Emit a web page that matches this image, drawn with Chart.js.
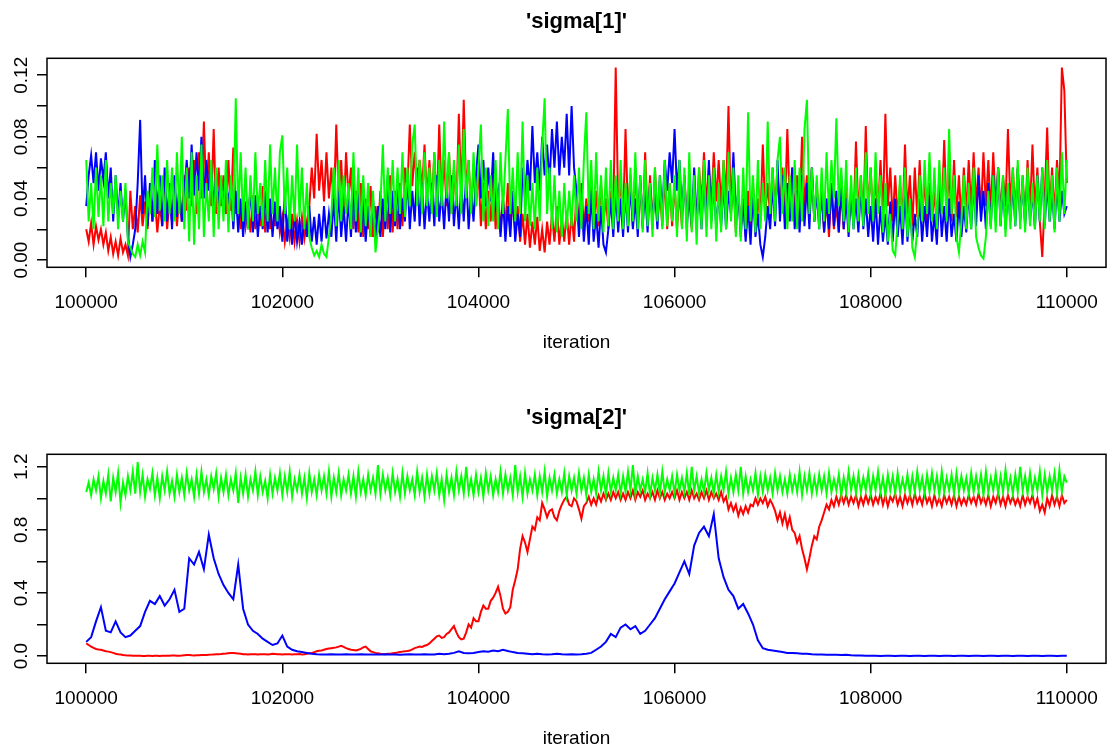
<!DOCTYPE html>
<html>
<head>
<meta charset="utf-8">
<title>Trace plots sigma</title>
<script src="https://cdn.jsdelivr.net/npm/chart.js@4.4.1/dist/chart.umd.min.js"></script>
<style>
  html, body { margin: 0; padding: 0; background: #fff; overflow: hidden; }
  .painel { position: absolute; left: 0; width: 1112px; height: 354px; }
</style>
</head>
<body>
<div class="painel" style="top:0"><canvas id="grafico-sigma1"></canvas></div>
<div class="painel" style="top:396px"><canvas id="grafico-sigma2"></canvas></div>
<script>
// every chain runs from iteration 100000 to 110000; each array is thinned evenly
const iterStart = 100000;
const iterEnd = 110000;

const xTicks = [100000, 102000, 104000, 106000, 108000, 110000];

const sigma1Ticks = [0, 0.02, 0.04, 0.06, 0.08, 0.10, 0.12];
const sigma1Labels = ['0.00', '', '0.04', '', '0.08', '', '0.12'];
const sigma2Ticks = [0, 0.2, 0.4, 0.6, 0.8, 1.0, 1.2];
const sigma2Labels = ['0.0', '', '0.4', '', '0.8', '', '1.2'];

/* =========================
   sigma[1] chains (one value every 25 iterations)
========================== */
const sigma1Red = [
  0.020, 0.012, 0.024, 0.010, 0.022, 0.013, 0.020, 0.010, 0.018, 0.006, 0.015, 0.004, 0.012, 0.003, 0.014, 0.005, 0.010, 0.003, 0.045, 0.020,
  0.035, 0.018, 0.042, 0.022, 0.038, 0.020, 0.045, 0.025, 0.040, 0.018, 0.036, 0.022, 0.048, 0.020, 0.040, 0.025, 0.050, 0.022, 0.042, 0.025,
  0.055, 0.032, 0.060, 0.035, 0.065, 0.030, 0.070, 0.040, 0.090, 0.038, 0.070, 0.035, 0.085, 0.030, 0.060, 0.035, 0.055, 0.030, 0.065, 0.032,
  0.073, 0.030, 0.045, 0.020, 0.040, 0.022, 0.035, 0.018, 0.042, 0.020, 0.038, 0.022, 0.048, 0.018, 0.040, 0.020, 0.045, 0.022, 0.036, 0.018,
  0.028, 0.012, 0.025, 0.014, 0.030, 0.012, 0.026, 0.012, 0.028, 0.014, 0.025, 0.035, 0.060, 0.040, 0.082, 0.045, 0.065, 0.038, 0.070, 0.040,
  0.060, 0.035, 0.088, 0.040, 0.065, 0.030, 0.070, 0.040, 0.060, 0.020, 0.045, 0.018, 0.050, 0.015, 0.040, 0.020, 0.048, 0.015, 0.035, 0.018,
  0.045, 0.015, 0.040, 0.020, 0.055, 0.018, 0.045, 0.020, 0.050, 0.022, 0.060, 0.045, 0.088, 0.048, 0.070, 0.045, 0.065, 0.045, 0.075, 0.040,
  0.065, 0.035, 0.070, 0.032, 0.088, 0.040, 0.065, 0.035, 0.070, 0.030, 0.060, 0.035, 0.095, 0.040, 0.104, 0.045, 0.065, 0.030, 0.060, 0.035,
  0.060, 0.022, 0.050, 0.020, 0.045, 0.025, 0.055, 0.020, 0.045, 0.018, 0.040, 0.022, 0.050, 0.020, 0.040, 0.018, 0.035, 0.012, 0.030, 0.010,
  0.030, 0.008, 0.025, 0.010, 0.028, 0.006, 0.020, 0.005, 0.025, 0.010, 0.030, 0.012, 0.035, 0.010, 0.028, 0.012, 0.032, 0.010, 0.030, 0.012,
  0.045, 0.022, 0.050, 0.020, 0.040, 0.025, 0.048, 0.020, 0.045, 0.022, 0.050, 0.025, 0.040, 0.020, 0.045, 0.030, 0.125, 0.035, 0.050, 0.025,
  0.085, 0.030, 0.055, 0.022, 0.060, 0.025, 0.050, 0.020, 0.070, 0.025, 0.055, 0.020, 0.060, 0.025, 0.045, 0.022, 0.055, 0.020, 0.050, 0.022,
  0.050, 0.020, 0.045, 0.022, 0.055, 0.025, 0.040, 0.020, 0.050, 0.025, 0.060, 0.035, 0.070, 0.035, 0.060, 0.035, 0.070, 0.038, 0.065, 0.035,
  0.065, 0.040, 0.100, 0.030, 0.050, 0.018, 0.045, 0.020, 0.040, 0.015, 0.045, 0.018, 0.050, 0.020, 0.040, 0.025, 0.075, 0.030, 0.050, 0.028,
  0.060, 0.030, 0.055, 0.035, 0.060, 0.030, 0.085, 0.035, 0.060, 0.030, 0.055, 0.030, 0.080, 0.035, 0.055, 0.028, 0.060, 0.025, 0.050, 0.025,
  0.045, 0.018, 0.040, 0.015, 0.048, 0.020, 0.035, 0.018, 0.045, 0.020, 0.050, 0.022, 0.040, 0.025, 0.077, 0.030, 0.055, 0.025, 0.087, 0.030,
  0.060, 0.025, 0.055, 0.030, 0.065, 0.030, 0.095, 0.035, 0.060, 0.025, 0.055, 0.028, 0.050, 0.025, 0.075, 0.030, 0.055, 0.022, 0.060, 0.028,
  0.065, 0.025, 0.055, 0.020, 0.050, 0.025, 0.045, 0.020, 0.055, 0.030, 0.078, 0.030, 0.060, 0.025, 0.065, 0.028, 0.055, 0.025, 0.060, 0.030,
  0.065, 0.032, 0.070, 0.035, 0.060, 0.030, 0.070, 0.035, 0.065, 0.030, 0.070, 0.035, 0.060, 0.030, 0.055, 0.035, 0.085, 0.035, 0.060, 0.030,
  0.060, 0.028, 0.055, 0.025, 0.065, 0.030, 0.075, 0.030, 0.060, 0.025, 0.002, 0.040, 0.086, 0.030, 0.060, 0.028, 0.065, 0.040, 0.125, 0.110,
  0.050
];
const sigma1Blue = [
  0.035, 0.055, 0.068, 0.050, 0.070, 0.045, 0.066, 0.052, 0.070, 0.040, 0.060, 0.025, 0.055, 0.028, 0.050, 0.025, 0.045, 0.015, 0.002, 0.010,
  0.020, 0.050, 0.091, 0.030, 0.055, 0.022, 0.050, 0.025, 0.065, 0.030, 0.055, 0.022, 0.060, 0.025, 0.050, 0.020, 0.055, 0.028, 0.048, 0.025,
  0.045, 0.065, 0.040, 0.075, 0.042, 0.070, 0.045, 0.080, 0.040, 0.065, 0.045, 0.060, 0.035, 0.055, 0.038, 0.050, 0.035, 0.055, 0.036, 0.050,
  0.020, 0.045, 0.018, 0.040, 0.015, 0.038, 0.020, 0.048, 0.018, 0.042, 0.015, 0.035, 0.020, 0.045, 0.018, 0.040, 0.015, 0.038, 0.020, 0.035,
  0.012, 0.045, 0.012, 0.035, 0.010, 0.030, 0.012, 0.025, 0.010, 0.030, 0.015, 0.035, 0.012, 0.028, 0.010, 0.030, 0.012, 0.035, 0.014, 0.030,
  0.015, 0.040, 0.012, 0.045, 0.015, 0.035, 0.012, 0.040, 0.015, 0.050, 0.018, 0.045, 0.015, 0.040, 0.012, 0.035, 0.015, 0.040, 0.012, 0.035,
  0.015, 0.040, 0.020, 0.055, 0.018, 0.045, 0.022, 0.050, 0.020, 0.040, 0.025, 0.055, 0.020, 0.045, 0.025, 0.060, 0.022, 0.050, 0.020, 0.045,
  0.025, 0.050, 0.022, 0.055, 0.025, 0.045, 0.020, 0.050, 0.025, 0.055, 0.022, 0.045, 0.020, 0.050, 0.025, 0.055, 0.020, 0.045, 0.025, 0.055,
  0.075, 0.040, 0.065, 0.035, 0.060, 0.038, 0.070, 0.035, 0.045, 0.015, 0.040, 0.012, 0.035, 0.015, 0.045, 0.012, 0.030, 0.015, 0.060, 0.040,
  0.065, 0.045, 0.087, 0.050, 0.070, 0.045, 0.080, 0.055, 0.075, 0.050, 0.085, 0.060, 0.090, 0.055, 0.080, 0.060, 0.095, 0.055, 0.100, 0.060,
  0.045, 0.015, 0.040, 0.012, 0.035, 0.010, 0.045, 0.012, 0.030, 0.008, 0.035, 0.010, 0.005, 0.020, 0.040, 0.015, 0.045, 0.018, 0.040, 0.015,
  0.045, 0.018, 0.050, 0.020, 0.040, 0.015, 0.055, 0.022, 0.045, 0.018, 0.050, 0.025, 0.045, 0.020, 0.055, 0.030, 0.065, 0.045, 0.070, 0.050,
  0.085, 0.045, 0.065, 0.030, 0.055, 0.020, 0.050, 0.022, 0.060, 0.025, 0.045, 0.020, 0.055, 0.022, 0.065, 0.025, 0.050, 0.020, 0.045, 0.022,
  0.050, 0.020, 0.045, 0.030, 0.070, 0.030, 0.045, 0.015, 0.040, 0.012, 0.035, 0.010, 0.045, 0.015, 0.030, 0.010, 0.002, 0.015, 0.035, 0.020,
  0.050, 0.022, 0.065, 0.025, 0.055, 0.020, 0.050, 0.025, 0.060, 0.020, 0.045, 0.018, 0.055, 0.022, 0.050, 0.020, 0.060, 0.025, 0.045, 0.020,
  0.045, 0.018, 0.040, 0.020, 0.050, 0.022, 0.045, 0.018, 0.055, 0.020, 0.040, 0.015, 0.045, 0.020, 0.040, 0.018, 0.048, 0.020, 0.040, 0.015,
  0.035, 0.012, 0.040, 0.010, 0.035, 0.012, 0.030, 0.010, 0.038, 0.012, 0.040, 0.015, 0.035, 0.010, 0.045, 0.012, 0.035, 0.012, 0.030, 0.015,
  0.040, 0.012, 0.035, 0.015, 0.042, 0.012, 0.030, 0.010, 0.045, 0.015, 0.035, 0.012, 0.040, 0.015, 0.030, 0.012, 0.038, 0.015, 0.035, 0.018,
  0.045, 0.020, 0.050, 0.022, 0.055, 0.025, 0.045, 0.020, 0.050, 0.022, 0.055, 0.025, 0.060, 0.022, 0.050, 0.020, 0.045, 0.025, 0.050, 0.022,
  0.060, 0.025, 0.050, 0.022, 0.055, 0.025, 0.045, 0.020, 0.055, 0.025, 0.060, 0.022, 0.050, 0.025, 0.045, 0.020, 0.050, 0.025, 0.045, 0.030,
  0.035
];
const sigma1Green = [
  0.065, 0.025, 0.050, 0.020, 0.060, 0.028, 0.055, 0.022, 0.065, 0.025, 0.050, 0.030, 0.055, 0.020, 0.045, 0.025, 0.050, 0.012, 0.008, 0.004,
  0.002, 0.010, 0.003, 0.012, 0.005, 0.045, 0.030, 0.060, 0.028, 0.075, 0.032, 0.055, 0.025, 0.065, 0.030, 0.060, 0.025, 0.070, 0.030, 0.080,
  0.020, 0.060, 0.012, 0.070, 0.010, 0.055, 0.020, 0.075, 0.015, 0.050, 0.025, 0.065, 0.015, 0.060, 0.020, 0.055, 0.025, 0.065, 0.018, 0.055,
  0.025, 0.105, 0.030, 0.070, 0.025, 0.060, 0.020, 0.055, 0.025, 0.070, 0.030, 0.050, 0.022, 0.065, 0.025, 0.075, 0.030, 0.060, 0.025, 0.070,
  0.081, 0.030, 0.060, 0.020, 0.055, 0.025, 0.075, 0.028, 0.060, 0.020, 0.050, 0.015, 0.008, 0.003, 0.006, 0.002, 0.010, 0.004, 0.002, 0.015,
  0.030, 0.060, 0.022, 0.065, 0.025, 0.055, 0.030, 0.050, 0.020, 0.070, 0.025, 0.060, 0.018, 0.055, 0.022, 0.050, 0.015, 0.045, 0.005, 0.020,
  0.035, 0.075, 0.025, 0.060, 0.030, 0.065, 0.025, 0.060, 0.030, 0.070, 0.028, 0.060, 0.035, 0.075, 0.088, 0.035, 0.065, 0.030, 0.070, 0.035,
  0.060, 0.030, 0.070, 0.028, 0.065, 0.035, 0.090, 0.040, 0.070, 0.030, 0.065, 0.035, 0.075, 0.030, 0.085, 0.040, 0.065, 0.030, 0.070, 0.035,
  0.060, 0.088, 0.025, 0.060, 0.022, 0.055, 0.025, 0.065, 0.020, 0.070, 0.030, 0.065, 0.098, 0.030, 0.060, 0.025, 0.070, 0.030, 0.090, 0.025,
  0.055, 0.022, 0.050, 0.020, 0.060, 0.025, 0.075, 0.105, 0.030, 0.060, 0.020, 0.055, 0.018, 0.045, 0.015, 0.050, 0.020, 0.045, 0.022, 0.055,
  0.025, 0.060, 0.020, 0.065, 0.096, 0.030, 0.065, 0.020, 0.070, 0.025, 0.055, 0.018, 0.060, 0.022, 0.065, 0.020, 0.055, 0.025, 0.065, 0.020,
  0.050, 0.022, 0.060, 0.025, 0.070, 0.020, 0.055, 0.018, 0.065, 0.022, 0.050, 0.015, 0.060, 0.025, 0.055, 0.020, 0.065, 0.022, 0.050, 0.025,
  0.055, 0.015, 0.065, 0.020, 0.060, 0.012, 0.070, 0.018, 0.055, 0.010, 0.060, 0.020, 0.065, 0.015, 0.055, 0.020, 0.060, 0.012, 0.050, 0.018,
  0.065, 0.020, 0.070, 0.025, 0.060, 0.015, 0.055, 0.012, 0.060, 0.020, 0.096, 0.025, 0.055, 0.018, 0.065, 0.020, 0.050, 0.025, 0.090, 0.030,
  0.060, 0.025, 0.065, 0.080, 0.030, 0.060, 0.020, 0.055, 0.025, 0.065, 0.020, 0.060, 0.025, 0.085, 0.104, 0.030, 0.060, 0.025, 0.055, 0.020,
  0.060, 0.025, 0.070, 0.030, 0.065, 0.040, 0.092, 0.035, 0.060, 0.025, 0.065, 0.018, 0.055, 0.020, 0.060, 0.025, 0.055, 0.022, 0.070, 0.030,
  0.060, 0.025, 0.070, 0.030, 0.055, 0.018, 0.050, 0.012, 0.030, 0.006, 0.003, 0.025, 0.055, 0.020, 0.060, 0.015, 0.040, 0.008, 0.002, 0.020,
  0.055, 0.025, 0.065, 0.030, 0.070, 0.025, 0.060, 0.020, 0.065, 0.030, 0.060, 0.025, 0.085, 0.030, 0.055, 0.015, 0.005, 0.025, 0.055, 0.020,
  0.050, 0.020, 0.060, 0.015, 0.008, 0.003, 0.001, 0.015, 0.045, 0.020, 0.055, 0.018, 0.060, 0.022, 0.055, 0.015, 0.050, 0.020, 0.060, 0.022,
  0.065, 0.020, 0.055, 0.018, 0.060, 0.022, 0.050, 0.020, 0.055, 0.025, 0.060, 0.020, 0.065, 0.025, 0.055, 0.018, 0.060, 0.025, 0.070, 0.030,
  0.065
];

/* =========================
   sigma[2] chains
========================== */
// every 25 iterations
const sigma2Red = [
  0.080, 0.070, 0.060, 0.052, 0.045, 0.042, 0.040, 0.035, 0.030, 0.028, 0.025, 0.020, 0.015, 0.012, 0.010, 0.007, 0.005, 0.004, 0.003, 0.002,
  0.002, 0.002, 0.002, 0.001, 0.001, 0.002, 0.002, 0.001, 0.002, 0.002, 0.001, 0.002, 0.002, 0.002, 0.002, 0.003, 0.003, 0.002, 0.002, 0.003,
  0.005, 0.006, 0.007, 0.005, 0.004, 0.005, 0.005, 0.006, 0.006, 0.007, 0.008, 0.009, 0.010, 0.011, 0.012, 0.013, 0.015, 0.016, 0.018, 0.019,
  0.020, 0.018, 0.016, 0.014, 0.012, 0.011, 0.010, 0.011, 0.012, 0.011, 0.010, 0.011, 0.012, 0.011, 0.010, 0.012, 0.014, 0.013, 0.012, 0.011,
  0.010, 0.011, 0.012, 0.011, 0.010, 0.011, 0.012, 0.013, 0.010, 0.012, 0.015, 0.018, 0.020, 0.025, 0.030, 0.033, 0.035, 0.040, 0.045, 0.048,
  0.050, 0.052, 0.055, 0.060, 0.065, 0.058, 0.050, 0.045, 0.040, 0.038, 0.035, 0.040, 0.045, 0.055, 0.060, 0.045, 0.030, 0.025, 0.020, 0.018,
  0.015, 0.013, 0.012, 0.014, 0.015, 0.018, 0.020, 0.022, 0.025, 0.028, 0.030, 0.032, 0.035, 0.042, 0.050, 0.055, 0.060, 0.058, 0.065, 0.070,
  0.080, 0.095, 0.110, 0.125, 0.130, 0.115, 0.120, 0.140, 0.150, 0.170, 0.190, 0.150, 0.120, 0.105, 0.110, 0.150, 0.200, 0.180, 0.240, 0.220,
  0.220, 0.280, 0.320, 0.300, 0.300, 0.350, 0.370, 0.400, 0.440, 0.380, 0.300, 0.270, 0.280, 0.310, 0.420, 0.480, 0.550, 0.680, 0.760, 0.720,
  0.660, 0.740, 0.820, 0.800, 0.880, 0.860, 0.970, 0.930, 0.880, 0.920, 0.930, 0.880, 0.860, 0.920, 0.960, 0.990, 1.010, 0.960, 0.950, 1.000,
  0.980, 0.930, 0.870, 0.950, 0.970, 1.010, 0.960, 1.000, 0.960, 1.020, 0.980, 1.030, 0.990, 1.030, 0.990, 1.040, 1.000, 1.040, 0.990, 1.030,
  0.990, 1.040, 1.000, 1.050, 0.990, 1.040, 1.010, 1.050, 0.990, 1.030, 1.000, 1.040, 0.990, 1.050, 1.000, 1.040, 0.990, 1.030, 1.000, 1.040,
  1.000, 1.050, 0.990, 1.040, 1.000, 1.040, 0.990, 1.050, 1.000, 1.030, 0.990, 1.040, 1.000, 1.050, 0.990, 1.040, 1.000, 1.030, 0.990, 1.040,
  0.980, 1.010, 0.930, 0.970, 0.920, 0.960, 0.890, 0.940, 0.900, 0.950, 0.910, 0.960, 0.950, 1.000, 0.960, 1.000, 0.970, 1.010, 0.950, 0.990,
  0.960, 0.920, 0.860, 0.910, 0.840, 0.900, 0.820, 0.880, 0.800, 0.780, 0.720, 0.760, 0.680, 0.620, 0.550, 0.620, 0.700, 0.760, 0.740, 0.820,
  0.860, 0.910, 0.960, 0.930, 0.990, 0.950, 1.010, 0.960, 1.020, 0.970, 1.020, 0.960, 1.010, 0.970, 1.020, 0.950, 1.010, 0.960, 1.020, 0.970,
  1.020, 0.960, 1.010, 0.970, 1.030, 0.960, 1.020, 0.950, 1.010, 0.980, 1.030, 0.960, 1.010, 0.950, 1.020, 0.970, 1.020, 0.960, 1.030, 0.970,
  1.010, 0.960, 1.030, 0.970, 1.010, 0.950, 1.020, 0.960, 1.000, 0.950, 1.020, 0.970, 1.010, 0.960, 1.020, 0.950, 1.010, 0.960, 1.000, 0.960,
  1.020, 0.970, 1.010, 0.960, 1.030, 0.970, 1.010, 0.960, 1.020, 0.950, 1.010, 0.970, 1.030, 0.960, 1.010, 0.950, 1.020, 0.970, 1.010, 0.960,
  1.000, 0.950, 1.020, 0.960, 1.010, 0.970, 1.020, 0.950, 1.000, 0.920, 0.960, 0.910, 1.000, 0.950, 1.020, 0.960, 1.010, 0.950, 1.020, 0.970,
  0.990
];
// every 50 iterations
const sigma2Blue = [
  0.09, 0.12, 0.22, 0.31, 0.16, 0.15, 0.22, 0.15, 0.12, 0.13, 0.16, 0.19, 0.28, 0.35, 0.33, 0.38, 0.32, 0.36, 0.42, 0.28,
  0.30, 0.62, 0.58, 0.66, 0.55, 0.77, 0.62, 0.52, 0.45, 0.40, 0.36, 0.58, 0.30, 0.20, 0.16, 0.14, 0.11, 0.09, 0.07, 0.08,
  0.13, 0.06, 0.04, 0.03, 0.025, 0.020, 0.015, 0.012, 0.010, 0.010, 0.012, 0.010, 0.010, 0.012, 0.010, 0.010, 0.012, 0.010, 0.010, 0.010,
  0.010, 0.012, 0.010, 0.010, 0.008, 0.010, 0.012, 0.010, 0.010, 0.012, 0.010, 0.010, 0.015, 0.012, 0.015, 0.020, 0.030, 0.020, 0.018, 0.020,
  0.025, 0.030, 0.028, 0.035, 0.030, 0.040, 0.032, 0.025, 0.020, 0.018, 0.015, 0.012, 0.015, 0.012, 0.010, 0.012, 0.015, 0.012, 0.010, 0.012,
  0.010, 0.012, 0.015, 0.020, 0.040, 0.060, 0.090, 0.140, 0.120, 0.180, 0.200, 0.170, 0.190, 0.140, 0.160, 0.200, 0.240, 0.300, 0.360, 0.410,
  0.46, 0.53, 0.60, 0.52, 0.70, 0.78, 0.82, 0.76, 0.90, 0.62, 0.50, 0.42, 0.38, 0.30, 0.33, 0.27, 0.20, 0.10, 0.05, 0.04,
  0.035, 0.030, 0.025, 0.020, 0.020, 0.018, 0.015, 0.015, 0.012, 0.010, 0.010, 0.008, 0.008, 0.008, 0.006, 0.008, 0.005, 0.003, 0.003, 0.002,
  0.002, 0.002, 0.001, 0.002, 0.002, 0.001, 0.002, 0.002, 0.001, 0.002, 0.002, 0.001, 0.002, 0.002, 0.001, 0.002, 0.002, 0.001, 0.002, 0.002,
  0.001, 0.002, 0.002, 0.001, 0.002, 0.002, 0.001, 0.002, 0.002, 0.001, 0.002, 0.002, 0.001, 0.002, 0.002, 0.001, 0.002, 0.002, 0.001, 0.002,
  0.002
];
// every 25 iterations
const sigma2Green = [
  1.04, 1.10, 1.02, 1.12, 1.05, 1.14, 1.00, 1.11, 1.03, 1.15, 0.98, 1.13, 1.04, 1.16, 0.97, 1.10, 1.02, 1.14, 1.05, 1.17,
  1.03, 1.23, 1.04, 1.15, 1.01, 1.12, 1.06, 1.16, 1.02, 1.13, 1.00, 1.14, 1.05, 1.17, 1.03, 1.11, 1.01, 1.15, 1.04, 1.13,
  1.02, 1.16, 1.05, 1.12, 1.01, 1.15, 1.03, 1.17, 1.04, 1.12, 1.02, 1.14, 1.06, 1.16, 1.01, 1.13, 1.04, 1.15, 1.02, 1.12,
  1.05, 1.16, 0.97, 1.13, 1.03, 1.15, 1.01, 1.12, 1.05, 1.17, 1.02, 1.14, 1.04, 1.11, 1.00, 1.15, 1.03, 1.13, 1.05, 1.16,
  1.02, 1.14, 1.04, 1.17, 1.01, 1.12, 1.05, 1.15, 1.03, 1.13, 1.00, 1.16, 1.04, 1.12, 1.02, 1.15, 1.05, 1.14, 1.03, 1.17,
  1.01, 1.13, 1.04, 1.16, 1.02, 1.12, 1.05, 1.15, 1.03, 1.14, 1.01, 1.17, 1.04, 1.12, 1.02, 1.15, 1.05, 1.13, 1.03, 1.21,
  1.03, 1.15, 1.05, 1.13, 1.02, 1.16, 1.04, 1.12, 1.01, 1.16, 1.03, 1.14, 1.05, 1.12, 1.02, 1.17, 1.04, 1.13, 1.01, 1.15,
  1.03, 1.14, 1.05, 1.16, 1.02, 1.12, 0.99, 1.15, 1.04, 1.13, 1.02, 1.17, 1.05, 1.14, 1.03, 1.20, 1.04, 1.12, 1.02, 1.15,
  1.04, 1.13, 1.01, 1.16, 1.05, 1.14, 1.02, 1.12, 1.04, 1.17, 1.03, 1.15, 1.05, 1.13, 1.02, 1.21, 1.04, 1.14, 1.01, 1.16,
  1.03, 1.12, 1.05, 1.15, 1.02, 1.14, 1.04, 1.17, 1.01, 1.13, 1.05, 1.15, 1.03, 1.12, 1.04, 1.16, 1.02, 1.14, 1.05, 1.13,
  1.03, 1.16, 1.05, 1.13, 1.02, 1.15, 1.04, 1.12, 1.03, 1.17, 1.05, 1.14, 1.02, 1.16, 1.04, 1.13, 1.05, 1.15, 1.03, 1.14,
  1.04, 1.17, 1.05, 1.21, 1.03, 1.14, 1.05, 1.12, 1.04, 1.16, 1.02, 1.13, 1.05, 1.15, 1.03, 1.17, 1.04, 1.12, 1.05, 1.14,
  1.03, 1.15, 1.05, 1.13, 1.04, 1.16, 1.02, 1.20, 1.05, 1.14, 1.03, 1.12, 1.04, 1.16, 1.05, 1.13, 1.03, 1.15, 1.04, 1.14,
  1.05, 1.17, 1.03, 1.13, 1.04, 1.15, 1.05, 1.20, 1.03, 1.14, 1.04, 1.12, 1.05, 1.16, 1.02, 1.14, 1.04, 1.15, 1.05, 1.13,
  1.03, 1.16, 1.05, 1.14, 1.04, 1.12, 1.03, 1.15, 1.05, 1.13, 1.04, 1.17, 1.02, 1.14, 1.05, 1.16, 1.03, 1.13, 1.04, 1.15,
  1.05, 1.14, 1.03, 1.16, 1.04, 1.12, 1.05, 1.15, 1.02, 1.13, 1.04, 1.17, 1.05, 1.14, 1.03, 1.15, 1.04, 1.13, 1.05, 1.16,
  1.03, 1.14, 1.05, 1.17, 1.04, 1.13, 1.02, 1.15, 1.05, 1.14, 1.03, 1.16, 1.04, 1.12, 1.05, 1.15, 1.03, 1.14, 1.04, 1.17,
  1.05, 1.13, 1.03, 1.15, 1.04, 1.16, 1.05, 1.14, 1.02, 1.17, 1.04, 1.13, 1.05, 1.15, 1.03, 1.16, 1.04, 1.14, 1.05, 1.13,
  1.03, 1.16, 1.04, 1.14, 1.05, 1.15, 1.02, 1.17, 1.04, 1.13, 1.05, 1.16, 1.03, 1.14, 1.04, 1.18, 1.05, 1.13, 1.03, 1.15,
  1.04, 1.20, 1.05, 1.14, 1.03, 1.16, 1.04, 1.13, 1.05, 1.17, 1.02, 1.15, 1.04, 1.14, 1.05, 1.16, 1.03, 1.18, 1.04, 1.14,
  1.10
];

Chart.defaults.font.family = '"Liberation Sans", Arial, sans-serif';
Chart.defaults.color = '#000';

// spread an evenly thinned chain over the iteration range
function chainPoints(values) {
    const step = (iterEnd - iterStart) / (values.length - 1);
    return values.map((v, i) => ({ x: iterStart + i * step, y: v }));
}

// R style: box around the plot region, vertical tick labels on the y axis
const rBoxPlugin = {
    id: 'rBox',
    afterDatasetsDraw(chart) {
        const { ctx, chartArea: a } = chart;
        ctx.save();
        ctx.strokeStyle = '#000';
        ctx.lineWidth = 1.5;
        ctx.strokeRect(a.left, a.top, a.right - a.left, a.bottom - a.top);
        ctx.restore();
    },
    afterDraw(chart, args, opts) {
        const { ctx } = chart;
        const y = chart.scales.y;
        ctx.save();
        ctx.font = '19px "Liberation Sans", Arial, sans-serif';
        ctx.fillStyle = '#000';
        ctx.textAlign = 'center';
        ctx.textBaseline = 'alphabetic';
        y.ticks.forEach((t, i) => {
            const txt = opts.labels[i];
            if (!txt) return;
            ctx.save();
            ctx.translate(y.right - 20, y.getPixelForValue(t.value));
            ctx.rotate(-Math.PI / 2);
            ctx.fillText(txt, 0, 0);
            ctx.restore();
        });
        ctx.restore();
    }
};

function traceplot(id, title, yMin, yMax, yTicks, yLabels, red, blue, green) {
    const ctx = document.getElementById(id);
    if (!ctx) return;

    const linha = (values, color, order) => ({
        data: chainPoints(values),
        borderColor: color,
        borderWidth: 2,
        pointRadius: 0,
        tension: 0,
        fill: false,
        order: order
    });

    new Chart(ctx, {
        type: 'line',
        data: {
            datasets: [
                linha(red, '#FF0000', 3),
                linha(blue, '#0000FF', 2),
                linha(green, '#00FF00', 1)
            ]
        },
        options: {
            responsive: true,
            maintainAspectRatio: false,
            animation: false,
            events: [],
            layout: { padding: 0 },
            plugins: {
                legend: { display: false },
                tooltip: { enabled: false },
                title: {
                    display: true,
                    text: title,
                    fullSize: false,
                    color: '#000',
                    font: { size: 22, weight: 'bold', lineHeight: 1.2 },
                    padding: { top: 8.6, bottom: 23.3 }
                },
                rBox: { labels: yLabels }
            },
            scales: {
                x: {
                    type: 'linear',
                    min: 99600,
                    max: 110400,
                    afterBuildTicks: s => { s.ticks = xTicks.map(v => ({ value: v })); },
                    afterFit: s => { s.height = 354 - 267.3; },
                    border: { display: false },
                    grid: {
                        drawOnChartArea: false,
                        color: '#000',
                        lineWidth: 1.5,
                        tickLength: 10
                    },
                    ticks: {
                        maxRotation: 0,
                        autoSkip: false,
                        padding: 14,
                        font: { size: 19, lineHeight: 1.2 },
                        callback: v => String(v)
                    },
                    title: {
                        display: true,
                        text: 'iteration',
                        font: { size: 19, lineHeight: 1.2 },
                        padding: { top: 0, bottom: 0 }
                    }
                },
                y: {
                    type: 'linear',
                    min: yMin,
                    max: yMax,
                    afterBuildTicks: s => { s.ticks = yTicks.map(v => ({ value: v })); },
                    afterFit: s => { s.width = 47; },
                    border: { display: false },
                    grid: {
                        drawOnChartArea: false,
                        color: '#000',
                        lineWidth: 1.5,
                        tickLength: 10
                    },
                    ticks: { display: false }
                }
            }
        },
        plugins: [rBoxPlugin]
    });
}

document.addEventListener("DOMContentLoaded", () => {
    traceplot('grafico-sigma1', "'sigma[1]'", -0.0047, 0.131, sigma1Ticks, sigma1Labels,
        sigma1Red, sigma1Blue, sigma1Green);
    traceplot('grafico-sigma2', "'sigma[2]'", -0.046, 1.279, sigma2Ticks, sigma2Labels,
        sigma2Red, sigma2Blue, sigma2Green);
});
</script>
</body>
</html>
